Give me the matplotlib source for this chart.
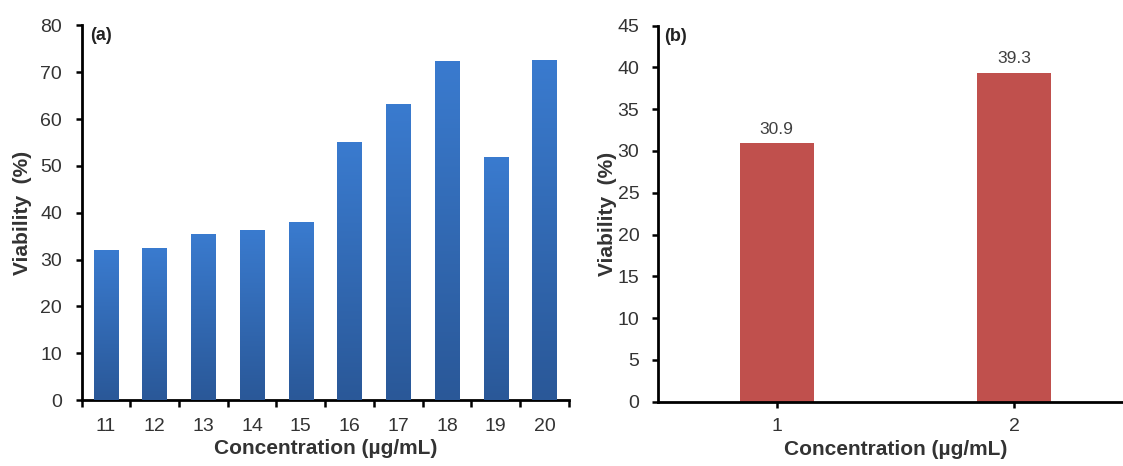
import matplotlib
matplotlib.use("Agg")
import matplotlib.pyplot as plt
import numpy as np
from matplotlib.colors import LinearSegmentedColormap

# ---- data ----
conc_a = ["11", "12", "13", "14", "15", "16", "17", "18", "19", "20"]
viab_a = [32.0, 32.4, 35.5, 36.4, 38.0, 55.0, 63.1, 72.4, 51.8, 72.6]
conc_b = ["1", "2"]
viab_b = [30.9, 39.3]
yticks_a = [0, 10, 20, 30, 40, 50, 60, 70, 80]
yticks_b = [0, 5, 10, 15, 20, 25, 30, 35, 40, 45]

plt.rcParams['font.family'] = ['Liberation Sans', 'DejaVu Sans']
TXT = "#333333"

fig = plt.figure(figsize=(11.23, 4.66), dpi=100)
axA = fig.add_axes([0.0726, 0.1416, 0.4340, 0.804])
axB = fig.add_axes([0.586, 0.138, 0.4226, 0.807])

def style(ax, ypad):
    for s in ("top", "right"):
        ax.spines[s].set_visible(False)
    for s in ("left", "bottom"):
        ax.spines[s].set_linewidth(2.0)
        ax.spines[s].set_color("black")
    ax.tick_params(axis="y", direction="out", length=4, width=1.8, pad=ypad,
                   labelsize=14, labelcolor=TXT)
    ax.tick_params(axis="x", labelsize=14, labelcolor=TXT)

# ---- panel (a) ----
xa = np.arange(len(conc_a))
bars = axA.bar(xa, viab_a, width=0.5, color="#3470c0", zorder=2)
cmap = LinearSegmentedColormap.from_list("bl", ["#2a5898", "#3a7bcf"])
grad = np.linspace(0, 1, 256).reshape(-1, 1)
for b in bars:
    x0, y0 = b.get_x(), b.get_y()
    w, h = b.get_width(), b.get_height()
    im = axA.imshow(grad, cmap=cmap, origin="lower", aspect="auto",
                    extent=[x0, x0 + w, y0, y0 + h], zorder=3)
    im.set_clip_path(b)
axA.set_xlim(-0.5, len(conc_a) - 0.5)
axA.set_ylim(0, 80)
axA.set_yticks(yticks_a)
axA.set_xticks(xa)
axA.set_xticklabels(conc_a)
axA.set_xticks(np.arange(-0.5, len(conc_a)), minor=True)
style(axA, 10)
axA.tick_params(axis="x", which="major", length=0, pad=13)
axA.tick_params(axis="x", which="minor", direction="out", length=5, width=1.8)
axA.set_xlabel("Concentration (µg/mL)", fontsize=15, fontweight="bold",
               color=TXT, labelpad=3)
axA.set_ylabel("Viability  (%)", fontsize=15, fontweight="bold", color=TXT,
               labelpad=6)
axA.text(0.017, 0.972, "(a)", transform=axA.transAxes, fontsize=13,
         fontweight="bold", va="center", ha="left", color="#222222")

# ---- panel (b) ----
xb = np.arange(1, len(conc_b) + 1)
barsb = axB.bar(xb, viab_b, width=0.31, color="#c0504d", zorder=2)
axB.set_xlim(0.5, len(conc_b) + 0.5)
axB.set_ylim(0, 45)
axB.set_yticks(yticks_b)
axB.set_xticks(xb)
axB.set_xticklabels(conc_b)
style(axB, 9.5)
axB.tick_params(axis="x", direction="out", length=4, width=1.8, pad=8)
axB.bar_label(barsb, labels=[f"{v:.1f}" for v in viab_b], padding=5,
              fontsize=12.5, color="#404040")
axB.set_xlabel("Concentration (µg/mL)", fontsize=15, fontweight="bold",
               color=TXT, labelpad=3)
axB.set_ylabel("Viability  (%)", fontsize=15, fontweight="bold", color=TXT,
               labelpad=0)
axB.text(0.012, 0.97, "(b)", transform=axB.transAxes, fontsize=13,
         fontweight="bold", va="center", ha="left", color="#222222")

fig.savefig("out.png", dpi=100)
